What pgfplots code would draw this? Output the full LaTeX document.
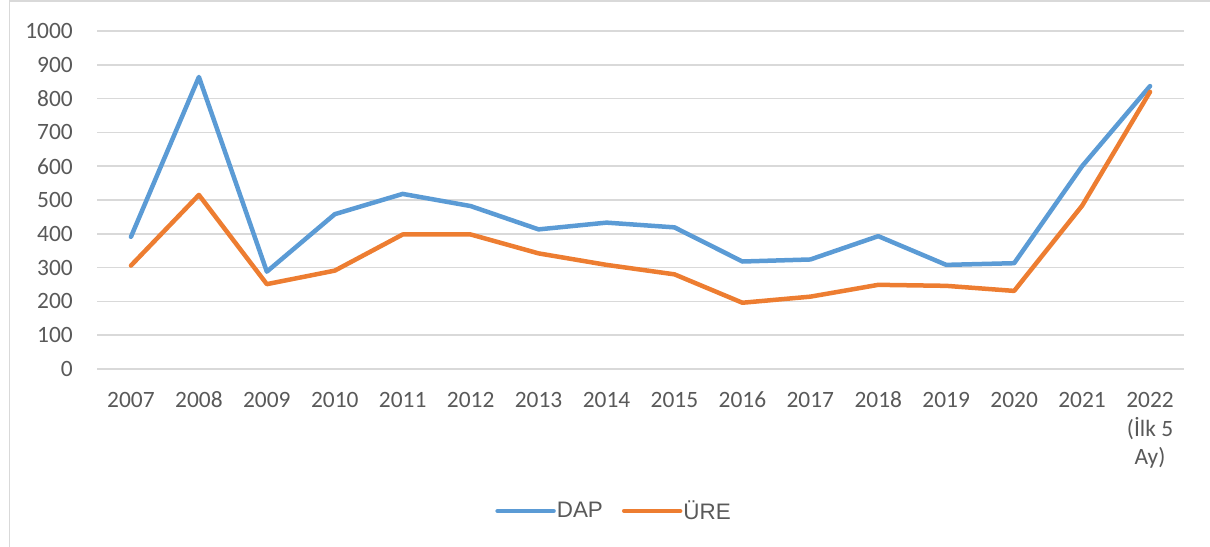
\documentclass[border=0pt]{standalone}
\usepackage{pgfplots}
\pgfplotsset{compat=1.18}
\usepackage{fontspec}
\setmainfont{Carlito}
\newfontfamily\legfont{Liberation Sans}
\definecolor{dapblue}{HTML}{5B9BD5}
\definecolor{ureorange}{HTML}{ED7D31}
\definecolor{gridgray}{HTML}{D9D9D9}
\definecolor{txtgray}{HTML}{595959}
\newcommand\Sr{\rule{0pt}{18bp}}
\pgfplotstableread{
x dap ure
0 391 306
1 864 515
2 288 251
3 458 291
4 518 398
5 482 398
6 413 342
7 433 308
8 419 280
9 318 196
10 324 214
11 393 249
12 308 246
13 313 231
14 600 483
15 837 820
}\datatable
\begin{document}
\begin{tikzpicture}[x=1bp,y=1bp]
\useasboundingbox (0,0) rectangle (1210,547);
\draw[gridgray, line width=1.2bp] (9.5,-5) -- (9.5,546) -- (1215,546);
\begin{axis}[
  at={(97bp,178bp)}, anchor=south west,
  scale only axis, width=1087bp, height=338bp,
  xmin=-0.5, xmax=15.5, ymin=0, ymax=1000,
  axis line style={draw=none},
  ytick={0,100,...,1000},
  xtick={0,...,15},
  xticklabels={\Sr2007,\Sr2008,\Sr2009,\Sr2010,\Sr2011,\Sr2012,\Sr2013,\Sr2014,\Sr2015,\Sr2016,\Sr2017,\Sr2018,\Sr2019,\Sr2020,\Sr2021,{\Sr2022\\(İlk 5\\Ay)}},
  major tick length=0pt,
  ymajorgrids, grid style={gridgray, line width=1.5bp},
  /pgf/number format/assume math mode=true,
  /pgf/number format/1000 sep={},
  tick label style={font=\fontsize{23.5}{29}\selectfont, text=txtgray},
  yticklabel style={anchor=east, inner sep=0pt, xshift=-24bp},
  xticklabel style={anchor=north, inner sep=0pt, yshift=-20bp, align=center},
  legend columns=2,
  legend style={at={(0.4752,-0.420)}, anchor=center, draw=none, fill=none,
    font=\legfont\fontsize{22.5}{26}\selectfont, text=txtgray, inner sep=0pt,
    nodes={inner sep=1bp},
    /tikz/every even column/.append style={column sep=18bp}},
  legend cell align=left,
  legend image code/.code={\draw[#1, line cap=round] (0bp,0bp) -- (56bp,0bp);},
  every axis plot/.append style={line width=4.5bp, line join=round, line cap=round},
]
\addplot[dapblue, mark=none] table[x=x, y=dap] {\datatable};
\addlegendentry{DAP}
\addplot[ureorange, mark=none] table[x=x, y=ure] {\datatable};
\addlegendentry{ÜRE}
\end{axis}
\end{tikzpicture}
\end{document}
